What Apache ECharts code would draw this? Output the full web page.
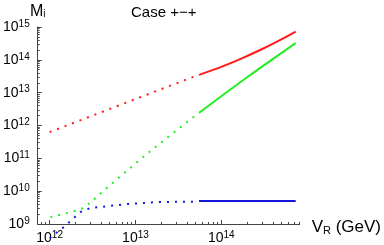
<!DOCTYPE html>
<html><head><meta charset="utf-8">
<script src="https://cdn.jsdelivr.net/npm/echarts@6/dist/echarts.min.js"></script>
<style>html,body{margin:0;padding:0;background:#fff}#c{width:384px;height:245px}</style>
</head><body><div id="c"></div>
<script>
// ---- data (V_R in GeV, masses M_i in GeV) ----
const xTickExponents = [12, 13, 14];
const yTickExponents = [9, 10, 11, 12, 13, 14, 15];
const xRange = [7.26e11, 8.19e14];
const yRange = [1e9, 1e15];

const redDottedV = [1.0e12, 1.0e13, 5.42e13];
const redDottedM = [6.3e11, 6.4e12, 3.47e13];
const redSolidV = [5.5e13, 1.0e14, 1.66e14, 3.09e14, 5.01e14, 7.36e14];
const redSolidM = [3.47e13, 6.1e13, 1.05e14, 2.21e14, 4.19e14, 7.24e14];

const greenDottedV = [1.02e12, 1.79e12, 2.34e12, 3.06e12, 3.98e12, 6.31e12, 8.18e12, 1.40e13, 3.63e13, 5.42e13];
const greenDottedM = [1.62e9, 2.32e9, 2.86e9, 4.68e9, 8.81e9, 2.51e10, 4.43e10, 1.46e11, 1.05e12, 2.38e12];
const greenSolidV = [5.5e13, 2.0e14, 7.36e14];
const greenSolidM = [2.42e12, 2.95e13, 3.24e14];

const blueDottedV = [1.0e12, 1.57e12, 1.79e12, 2.05e12, 2.34e12, 2.63e12, 3.06e12, 3.98e12, 8.18e12, 1.86e13, 4.62e13, 5.42e13];
const blueDottedM = [3.7e8, 9.3e8, 1.32e9, 1.78e9, 2.40e9, 2.72e9, 3.09e9, 3.31e9, 4.07e9, 4.68e9, 4.8e9, 5.0e9];
const blueSolidV = [5.5e13, 7.36e14];
const blueSolidM = [5.0e9, 5.0e9];

const titleText = 'Case +\u2212+';

// ---- helpers ----
const L = Math.log10;
const pts = (vs, ms) => vs.map((v, i) => [L(v), L(ms[i])]);
function minors(lo, hi) {
  const out = [];
  for (let n = Math.floor(lo) - 1; n <= Math.ceil(hi); n++) {
    for (let k = 2; k <= 9; k++) {
      const v = n + L(k);
      if (v >= lo - 1e-9 && v <= hi + 1e-9) out.push(v);
    }
  }
  return out;
}
const xMin = L(xRange[0]), xMax = L(xRange[1]);
const yMin = L(yRange[0]), yMax = L(yRange[1]);
const supRich = {
  b: { fontSize: 14, fontFamily: 'Liberation Sans', color: '#000' },
  s: { fontSize: 10, fontFamily: 'Liberation Sans', color: '#000', verticalAlign: 'top', padding: [0, 0, 6, 0] }
};
const fmt = v => '{b|10}{s|' + Math.round(v) + '}';
const axisCol = '#444';

const chart = echarts.init(document.getElementById('c'), null, { renderer: 'canvas' });
const dotted = { type: [2, 6], width: 2, cap: 'butt' };
function ser(data, color, isDotted, clip) {
  return {
    type: 'line', data: data, showSymbol: false, symbol: 'none', smooth: isDotted ? false : 0.3,
    clip: clip, animation: false, xAxisIndex: 0, yAxisIndex: 0,
    lineStyle: Object.assign({ color: color }, isDotted ? dotted : { width: 2, type: 'solid' })
  };
}
chart.setOption({
  animation: false,
  title: {
    text: titleText, left: 131, top: 5, padding: 0,
    textStyle: { fontSize: 15, fontWeight: 'normal', fontFamily: 'Liberation Sans', color: '#000' }
  },
  grid: { left: 36, right: 84, top: 27, bottom: 21, containLabel: false },
  xAxis: [{
    type: 'value', min: xMin, max: xMax, position: 'bottom',
    axisLine: { show: true, lineStyle: { color: axisCol, width: 1 } },
    axisTick: { show: true, inside: true, length: 4, customValues: xTickExponents, lineStyle: { color: axisCol } },
    axisLabel: { show: true, customValues: xTickExponents, formatter: fmt, rich: supRich, margin: 6 },
    splitLine: { show: false },
    name: '{a|V}{r|R}{a| (GeV)}', nameLocation: 'end', nameGap: 12,
    nameTextStyle: {
      verticalAlign: 'middle', padding: [6, 0, 0, 0],
      rich: {
        a: { fontSize: 17, fontFamily: 'Liberation Sans', color: '#000' },
        r: { fontSize: 11, fontFamily: 'Liberation Sans', color: '#000', verticalAlign: 'bottom', padding: [7, 0, 0, 0] }
      }
    }
  }, {
    type: 'value', min: xMin, max: xMax, position: 'bottom',
    axisLine: { show: false },
    axisTick: { show: true, inside: true, length: 2, customValues: minors(xMin, xMax), lineStyle: { color: axisCol } },
    axisLabel: { show: false }, splitLine: { show: false }
  }],
  yAxis: [{
    type: 'value', min: yMin, max: yMax, position: 'left',
    axisLine: { show: true, lineStyle: { color: axisCol, width: 1 } },
    axisTick: { show: true, inside: true, length: 4, customValues: yTickExponents, lineStyle: { color: axisCol } },
    axisLabel: { show: true, customValues: yTickExponents, formatter: fmt, rich: supRich, margin: 8 },
    splitLine: { show: false },
    name: '{a|M}{r|i}', nameLocation: 'end', nameGap: 6,
    nameTextStyle: {
      align: 'center',
      rich: {
        a: { fontSize: 16, fontFamily: 'Liberation Sans', color: '#000' },
        r: { fontSize: 10, fontFamily: 'Liberation Sans', color: '#000', verticalAlign: 'bottom', padding: [6, 0, 0, 0] }
      }
    }
  }, {
    type: 'value', min: yMin, max: yMax, position: 'left',
    axisLine: { show: false },
    axisTick: { show: true, inside: true, length: 2, customValues: minors(yMin, yMax), lineStyle: { color: axisCol } },
    axisLabel: { show: false }, splitLine: { show: false }
  }],
  series: [
    ser(pts(redDottedV, redDottedM), '#ff1a1a', true, true),
    ser(pts(redSolidV, redSolidM), '#ff1a1a', false, true),
    ser(pts(greenDottedV, greenDottedM), '#22ee22', true, true),
    ser(pts(greenSolidV, greenSolidM), '#22ee22', false, true),
    ser(pts(blueDottedV, blueDottedM), '#1515dd', true, false),
    ser(pts(blueSolidV, blueSolidM), '#1515dd', false, true)
  ]
});
</script></body></html>
